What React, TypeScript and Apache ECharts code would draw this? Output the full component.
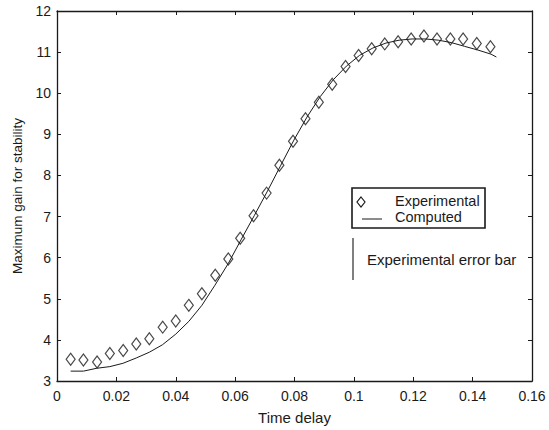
import React, { useEffect, useRef } from "react";
import * as echarts from "echarts";

const expT = [0.0046, 0.0089, 0.0135, 0.0178, 0.0223, 0.0267, 0.0311, 0.0356, 0.04, 0.0444, 0.0488, 0.0533, 0.0577, 0.0617, 0.0662, 0.0706, 0.0749, 0.0795, 0.0837, 0.0882, 0.0927, 0.0972, 0.1016, 0.106, 0.1104, 0.1149, 0.1193, 0.1236, 0.128, 0.1325, 0.1368, 0.1414, 0.146];
const expGain = [3.53, 3.51, 3.46, 3.67, 3.74, 3.9, 4.03, 4.31, 4.46, 4.84, 5.12, 5.57, 5.97, 6.47, 7.02, 7.57, 8.25, 8.83, 9.38, 9.78, 10.22, 10.65, 10.92, 11.08, 11.2, 11.25, 11.32, 11.39, 11.32, 11.32, 11.32, 11.21, 11.13];

const compT = [0.0046, 0.0089, 0.0134, 0.0178, 0.0222, 0.0267, 0.0311, 0.0355, 0.04, 0.0444, 0.0488, 0.0532, 0.0577, 0.0621, 0.0665, 0.0709, 0.0754, 0.0798, 0.0842, 0.0887, 0.0931, 0.0975, 0.1019, 0.1064, 0.1108, 0.1152, 0.1196, 0.1241, 0.1285, 0.1329, 0.1373, 0.1418, 0.1462, 0.148];
const compGain = [3.24, 3.24, 3.31, 3.35, 3.43, 3.56, 3.7, 3.88, 4.14, 4.45, 4.84, 5.33, 5.86, 6.45, 7.03, 7.62, 8.25, 8.86, 9.42, 9.92, 10.33, 10.66, 10.92, 11.1, 11.22, 11.29, 11.32, 11.32, 11.29, 11.23, 11.14, 11.05, 10.95, 10.88];

const seriesNames = ["Experimental", "Computed"];
const annotationText = "Experimental error bar";
const xTitle = "Time delay";
const yTitle = "Maximum gain for stability";

const FONT = "Liberation Sans, Arial, Helvetica, sans-serif";
const INK = "#1a1a1a";

export default function App() {
  const ref = useRef<HTMLDivElement>(null);
  useEffect(() => {
    if (!ref.current) return;
    const chart = echarts.init(ref.current, null, { renderer: "svg" });
    const axisLine = { show: true, onZero: false, lineStyle: { color: INK, width: 1.3 } };
    const tick = { show: true, inside: true, length: 4, lineStyle: { color: INK, width: 1 } };
    chart.setOption({
      animation: false,
      backgroundColor: "#ffffff",
      textStyle: { fontFamily: FONT },
      grid: { left: 57, right: 17, top: 11, bottom: 47, containLabel: false },
      xAxis: [
        {
          type: "value",
          min: 0,
          max: 0.16,
          interval: 0.02,
          position: "bottom",
          axisLine,
          axisTick: tick,
          splitLine: { show: false },
          axisLabel: { color: INK, fontSize: 14, margin: 8, fontFamily: FONT },
          name: xTitle,
          nameLocation: "middle",
          nameGap: 29,
          nameTextStyle: { color: INK, fontSize: 15, fontFamily: FONT },
        },
        {
          type: "value",
          min: 0,
          max: 0.16,
          interval: 0.02,
          position: "top",
          axisLine,
          axisTick: tick,
          splitLine: { show: false },
          axisLabel: { show: false },
        },
      ],
      yAxis: [
        {
          type: "value",
          min: 3,
          max: 12,
          interval: 1,
          position: "left",
          axisLine,
          axisTick: tick,
          splitLine: { show: false },
          axisLabel: { color: INK, fontSize: 14, margin: 6, fontFamily: FONT },
          name: yTitle,
          nameLocation: "middle",
          nameGap: 30,
          nameTextStyle: { color: INK, fontSize: 13.5, fontFamily: FONT },
        },
        {
          type: "value",
          min: 3,
          max: 12,
          interval: 1,
          position: "right",
          axisLine,
          axisTick: tick,
          splitLine: { show: false },
          axisLabel: { show: false },
        },
      ],
      series: [
        {
          name: seriesNames[1],
          type: "line",
          xAxisIndex: 0,
          yAxisIndex: 0,
          data: compT.map((t, i) => [t, compGain[i]]),
          showSymbol: false,
          symbol: "none",
          smooth: false,
          lineStyle: { color: INK, width: 1 },
          z: 2,
        },
        {
          name: seriesNames[0],
          type: "scatter",
          xAxisIndex: 0,
          yAxisIndex: 0,
          data: expT.map((t, i) => [t, expGain[i]]),
          symbol: "diamond",
          symbolSize: [9, 12],
          itemStyle: { color: "rgba(255,255,255,0)", borderColor: INK, borderWidth: 1.2 },
          z: 3,
        },
      ],
      graphic: [
        {
          type: "rect",
          shape: { x: 352, y: 188, width: 133, height: 40 },
          style: { fill: "#ffffff", stroke: INK, lineWidth: 1.6 },
          z: 10,
        },
        {
          type: "polygon",
          shape: { points: [[361, 197], [365, 202], [361, 207], [357, 202]] },
          style: { fill: "none", stroke: INK, lineWidth: 1.2 },
          z: 11,
        },
        {
          type: "line",
          shape: { x1: 362, y1: 219, x2: 382, y2: 219 },
          style: { stroke: INK, lineWidth: 1 },
          z: 11,
        },
        {
          type: "text",
          x: 395,
          y: 200.5,
          style: { text: seriesNames[0], fontSize: 14.5, lineHeight: 15, fontFamily: FONT, fill: INK, verticalAlign: "middle", align: "left" },
          z: 11,
        },
        {
          type: "text",
          x: 395,
          y: 216.5,
          style: { text: seriesNames[1], fontSize: 14.5, lineHeight: 15, fontFamily: FONT, fill: INK, verticalAlign: "middle", align: "left" },
          z: 11,
        },
        {
          type: "line",
          shape: { x1: 353, y1: 238, x2: 353, y2: 280 },
          style: { stroke: "#555555", lineWidth: 1.5 },
          z: 11,
        },
        {
          type: "text",
          x: 367,
          y: 259,
          style: { text: annotationText, fontSize: 15, fontFamily: FONT, fill: INK, verticalAlign: "middle", align: "left" },
          z: 11,
        },
      ],
    });
    return () => chart.dispose();
  }, []);
  return <div ref={ref} style={{ width: 549, height: 430, position: "absolute", left: 0, top: 0 }} />;
}
